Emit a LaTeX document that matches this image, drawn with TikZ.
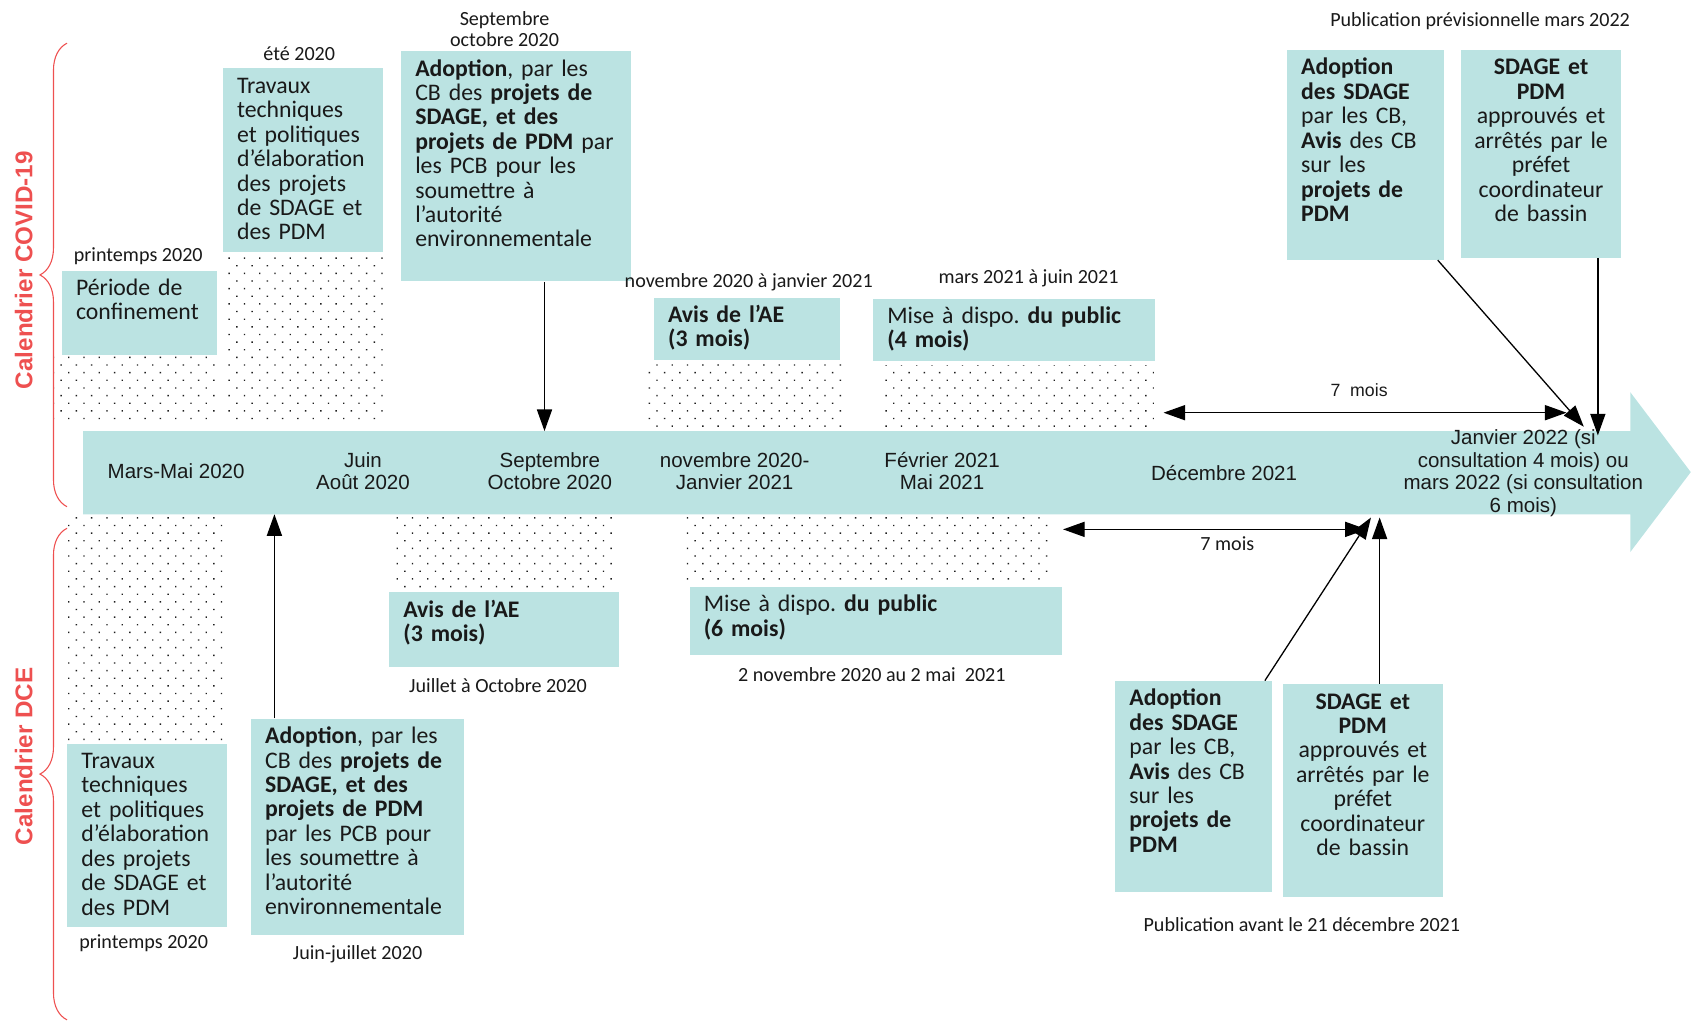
\documentclass[tikz,border=0pt]{standalone}
\usepackage{fontspec}
\setmainfont{Carlito}
\newfontfamily\arialfont{Liberation Sans}
\usetikzlibrary{arrows.meta}
\usetikzlibrary{patterns.meta}
\usetikzlibrary{decorations.pathreplacing}
\frenchspacing

\definecolor{frise}{RGB}{187,227,226}
\definecolor{rouge}{RGB}{238,80,80}
\definecolor{pointille}{RGB}{30,30,30}
\definecolor{encre}{RGB}{25,25,25}

\begin{document}
\begin{tikzpicture} [x=.5pt,y=-.5pt,
  etape/.style={fill=frise, text=encre, anchor=north west, align=left, inner xsep=6.5pt, inner ysep=3pt, text height=8.5pt, font=\fontsize{11}{11.3}\selectfont},
  arrete/.style={etape, align=center, inner xsep=3pt, text width=68pt},
  date/.style={text=encre, font=\fontsize{9.3}{9.8}\selectfont, align=center, inner sep=0pt},
  mois/.style={text=encre, font=\arialfont\fontsize{9.5}{10.5}\selectfont, align=center, inner sep=0pt},
  fleche/.style={-{Triangle[length=10pt,width=7pt]}, line width=.6pt},
  duree/.style={{Triangle[length=10pt,width=7pt]}-{Triangle[length=10pt,width=7pt]}, line width=.6pt},
  zone/.style={pattern={Dots[distance=5pt,angle=45,radius=.45pt]}, pattern color=pointille},
  accolade/.style={rouge, line width=.5pt, decorate, decoration={brace, amplitude=12.5pt}},
  calendrier/.style={rouge, font=\arialfont\bfseries\fontsize{11.2}{12}\selectfont, rotate=90}]
\useasboundingbox (0,0) rectangle (1568,946);

% zones en pointilles
\fill[zone] (50,330) rectangle (200,392);
\fill[zone] (206,234) rectangle (356,392);
\fill[zone] (600,336) rectangle (780,398);
\fill[zone] (815,338) rectangle (1068,402);
\fill[zone] (60,478) rectangle (208,685);
\fill[zone] (362,478) rectangle (572,545);
\fill[zone] (633,478) rectangle (975,540);

% frise
\fill[frise] (77,399) -- (1509,399) -- (1509,363) -- (1565,437) -- (1509,511) -- (1509,476) -- (77,476) -- cycle;
\node[mois] (marsmai) at (163,436) {Mars-Mai 2020};
\node[mois] (juinaout) at (336,436) {Juin\\Août 2020};
\node[mois] (septoct) at (509,436) {Septembre\\Octobre 2020};
\node[mois] (novjan) at (680,436) {novembre 2020-\\Janvier 2021};
\node[mois] (fevmai) at (872,436) {Février 2021\\Mai 2021};
\node[mois] (decembre) at (1133,438) {Décembre 2021};
\node[mois] (janvier) at (1410,438) {Janvier 2022 (si\\consultation 4 mois) ou\\mars 2022 (si consultation\\6 mois)};

\coordinate (tSept) at (504,399);
\coordinate (tJuin) at (254,476);
\coordinate (tJanA) at (1466,395);
\coordinate (tJanB) at (1479,403);
\coordinate (tDecA) at (1269,479);
\coordinate (tDecB) at (1277,479);

% calendrier COVID-19
\draw[accolade] (62,469) -- (62,40);
\node[calendrier] (covid) at (22,250) {Calendrier COVID-19};

\node[date] (dConf) at (128,237) {printemps 2020};
\node[etape, text width=58.5pt, text depth=24.5pt] (confinement) at (57,250) {Période de\\confinement};

\node[date] (dEte) at (277,50) {été 2020};
\node[etape, text width=61pt, text depth=70.5pt] (travauxCov) at (206,63) {Travaux\\techniques\\et politiques\\d’élaboration\\des projets\\de SDAGE et\\des PDM};

\node[date] (dSept) at (467,27) {Septembre\\octobre 2020};
\node[etape, text width=93.5pt, text depth=92pt] (adoptCov) at (371,47) {\textbf{Adoption}, par les\\CB des \textbf{projets de}\\\textbf{SDAGE, et des}\\\textbf{projets de PDM} par\\les PCB pour les\\soumettre à\\l’autorité\\environnementale};

\node[date] (dNov) at (693,261) {novembre 2020 à janvier 2021};
\node[etape, text width=73pt, text depth=14.5pt] (aeCov) at (605,275) {\textbf{Avis de l’AE}\\\textbf{(3 mois)}};

\node[date] (dMars) at (952,258) {mars 2021 à juin 2021};
\node[etape, text width=117.5pt, text depth=14.5pt] (publicCov) at (808,276) {Mise à dispo. \textbf{du public}\\\textbf{(4 mois)}};

\node[date] (dPrev) at (1370,20) {Publication prévisionnelle mars 2022};
\node[etape, text width=59.5pt, text depth=82.5pt] (sdageCov) at (1191,46) {\textbf{Adoption}\\\textbf{des SDAGE}\\par les CB,\\\textbf{Avis} des CB\\sur les\\\textbf{projets de}\\\textbf{PDM}};
\node[arrete, text depth=81.5pt] (arreteCov) at (1352,46) {\textbf{SDAGE et}\\\textbf{PDM}\\approuvés et\\arrêtés par le\\préfet\\coordinateur\\de bassin};

\coordinate (d7a) at (1077,382);
\coordinate (d7b) at (1450,382);
\draw[duree] (d7a) -- (d7b);
\node[mois, font=\arialfont\fontsize{8.2}{9}\selectfont] (sept7) at (1258,361) {7~ mois};

\draw[fleche] (adoptCov.south -| tSept) -- (tSept);
\draw[fleche] ([xshift=-3pt]sdageCov.south east) -- (tJanA);
\draw[fleche] (arreteCov.south -| tJanB) -- (tJanB);

% calendrier DCE
\draw[accolade] (62,944) -- (62,489);
\node[calendrier] (dce) at (22,700) {Calendrier DCE};

\node[etape, text width=61pt, text depth=70.5pt] (travauxDce) at (62,688) {Travaux\\techniques\\et politiques\\d’élaboration\\des projets\\de SDAGE et\\des PDM};
\node[date] (dPrint) at (133,873) {printemps 2020};

\node[etape, text width=85.5pt, text depth=85.5pt] (adoptDce) at (232,665) {\textbf{Adoption}, par les\\CB des \textbf{projets de}\\\textbf{SDAGE, et des}\\\textbf{projets de PDM}\\par les PCB pour\\les soumettre à\\l’autorité\\environnementale};
\node[date] (dJuin) at (331,883) {Juin-juillet 2020};

\node[etape, text width=93.5pt, text depth=20pt] (aeDce) at (360,548) {\textbf{Avis de l’AE}\\\textbf{(3 mois)}};
\node[date] (dJuil) at (461,635) {Juillet à Octobre 2020};

\node[etape, text width=159.5pt, text depth=17pt] (publicDce) at (638,543) {Mise à dispo. \textbf{du public}\\\textbf{(6 mois)}};
\node[date] (dDeux) at (807,624) {2 novembre 2020 au 2 mai~ 2021};

\node[etape, text width=59.5pt, text depth=83pt] (sdageDce) at (1032,630) {\textbf{Adoption}\\\textbf{des SDAGE}\\par les CB,\\\textbf{Avis} des CB\\sur les\\\textbf{projets de}\\\textbf{PDM}};
\node[arrete, text depth=84pt] (arreteDce) at (1187,633) {\textbf{SDAGE et}\\\textbf{PDM}\\approuvés et\\arrêtés par le\\préfet\\coordinateur\\de bassin};
\node[date] (dAvant) at (1205,856) {Publication avant le 21 décembre 2021};

\coordinate (d7c) at (984,490);
\coordinate (d7d) at (1265,490);
\draw[duree] (d7c) -- (d7d);
\node[date] (sept7b) at (1136,503) {7 mois};

\draw[fleche] (adoptDce.north -| tJuin) -- (tJuin);
\draw[fleche] ([xshift=-3.5pt]sdageDce.north east) -- (tDecA);
\draw[fleche] (arreteDce.north -| tDecB) -- (tDecB);
\end{tikzpicture}
\end{document}
